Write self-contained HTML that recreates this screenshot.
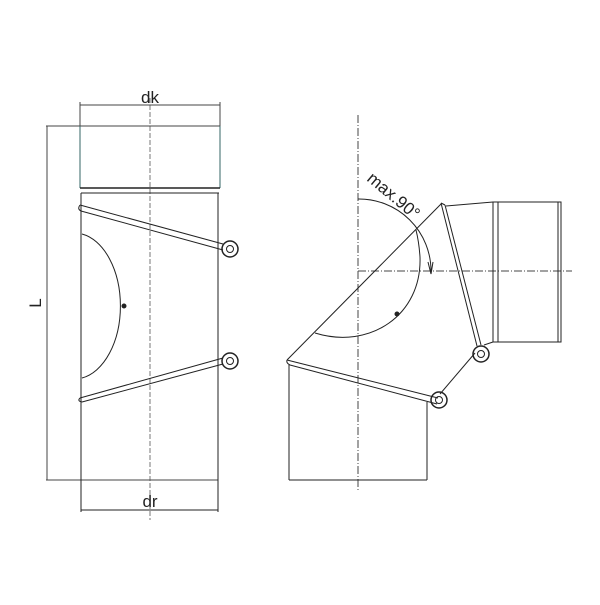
<!DOCTYPE html>
<html><head><style>body{margin:0;background:#fff}</style></head><body>
<svg width="600" height="600" viewBox="0 0 600 600" xmlns="http://www.w3.org/2000/svg" font-family="Liberation Sans, DejaVu Sans, sans-serif">
<g fill="none" stroke="#222" stroke-width="1">
<line x1="150" y1="98" x2="150" y2="520" stroke="#777" stroke-dasharray="5,2"/>
<line x1="80" y1="105" x2="220" y2="105" stroke="#444"/>
<line x1="80" y1="102" x2="80" y2="126" stroke="#444"/>
<line x1="220" y1="102" x2="220" y2="126" stroke="#444"/>
<line x1="46" y1="126" x2="220" y2="126" stroke="#444"/>
<line x1="47" y1="126" x2="47" y2="480" stroke="#444"/>
<line x1="46" y1="480" x2="218" y2="480" stroke="#444"/>
<line x1="81" y1="480" x2="81" y2="512"/>
<line x1="218" y1="480" x2="218" y2="512"/>
<line x1="81" y1="510" x2="218" y2="510"/>
<line x1="80" y1="126" x2="80" y2="188" stroke="#366"/>
<line x1="220" y1="126" x2="220" y2="188" stroke="#366"/>
<line x1="80" y1="188" x2="220" y2="188" stroke-width="1.5"/>
<line x1="81" y1="193" x2="219" y2="193"/>
<line x1="81" y1="193" x2="81" y2="480"/>
<line x1="218" y1="193" x2="218" y2="480"/>
<path d="M80,205 L223,244 M81,211 L223,250 M80,205 Q77,209 81,211"/>
<circle cx="230" cy="249" r="8" stroke-width="1.5"/>
<circle cx="230" cy="249" r="3.5"/>
<path d="M80,398 L223,358 M82,402 L223,364 M80,398 Q77,401 82,402"/>
<circle cx="230" cy="361" r="8" stroke-width="1.5"/>
<circle cx="230" cy="361" r="3.5"/>
<path d="M82,234 A46,73 0 0 1 82,378"/>
<circle cx="124" cy="306" r="2" fill="#222"/>
<line x1="358" y1="115" x2="358" y2="490" stroke="#444" stroke-dasharray="8,2,1,2"/>
<line x1="358" y1="271" x2="572" y2="271" stroke="#444" stroke-dasharray="8,2,1,2"/>
<line x1="289" y1="365" x2="289" y2="480"/>
<line x1="427" y1="402" x2="427" y2="480"/>
<line x1="289" y1="480" x2="427" y2="480"/>
<path d="M287,360 L438,398 M290,365 L437,404 M287,360 Q286,363 290,365"/>
<circle cx="439" cy="400" r="8" stroke-width="1.5"/>
<circle cx="439" cy="400" r="3.5"/>
<line x1="287" y1="360" x2="441" y2="204"/>
<line x1="440" y1="394" x2="475" y2="353"/>
<path d="M441,203 L477,346 M445,205 L481,345 M441,203 L445,205"/>
<circle cx="481" cy="354" r="8" stroke-width="1.5"/>
<circle cx="481" cy="354" r="3.5"/>
<line x1="446" y1="206" x2="493" y2="202"/>
<line x1="484" y1="345" x2="493" y2="342"/>
<rect x="493" y="202" width="5" height="140"/>
<line x1="498" y1="202" x2="558" y2="202"/>
<line x1="498" y1="342" x2="558" y2="342"/>
<rect x="558" y="202" width="3" height="140"/>
<path d="M358,199 A72,72 0 0 1 431,271 M428,262 L431,274 L433,262"/>
<path d="M315,333 C370,350 422,315 420,257 Q419,242 416,230"/>
<circle cx="397" cy="314" r="2" fill="#222"/>
</g>
<text x="150" y="103" font-size="17" text-anchor="middle" fill="#222">dk</text>
<text x="150" y="507" font-size="17" text-anchor="middle" fill="#222">dr</text>
<text x="41" y="303" font-size="17" text-anchor="middle" fill="#222" transform="rotate(-90 41 303)">L</text>
<text x="366" y="180" font-size="17" fill="#222" transform="rotate(40 366 180)">max.90°</text>
</svg>
</body></html>
